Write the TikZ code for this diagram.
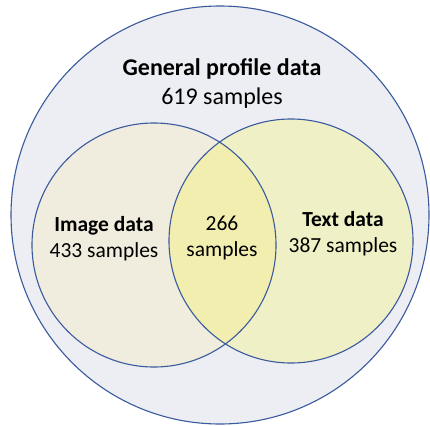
\documentclass[tikz,border=0pt]{standalone}
\usepackage{fontspec}
\setmainfont{Carlito}
\definecolor{outerfill}{HTML}{EDEEF3}
\definecolor{imgfill}{HTML}{F0ECDE}
\definecolor{txtfill}{HTML}{F0F0C6}
\definecolor{bothfill}{HTML}{F2EEB0}
\definecolor{edge}{HTML}{3A5A9E}
\tikzset{
  setcircle/.style={draw=edge, line width=1.1pt},
  lbl/.style={align=center, font=\fontsize{21.5}{26}\selectfont, inner sep=0pt},
  biglbl/.style={align=center, font=\fontsize{24}{29}\selectfont, inner sep=0pt},
}
\begin{document}
\begin{tikzpicture}[x=1pt,y=-1pt]
\useasboundingbox (0,0) rectangle (430,425);
\fill[white] (0,0) rectangle (430,425);
% outer circle
\filldraw[setcircle, fill=outerfill] (220,215) circle[radius=209];
% inner circles
\fill[imgfill] (154,245) circle[radius=122];
\fill[txtfill] (291,241) circle[radius=122];
\begin{scope}
  \clip (154,245) circle[radius=122];
  \fill[bothfill] (291,241) circle[radius=122];
\end{scope}
\draw[setcircle] (154,245) circle[radius=122];
\draw[setcircle] (291,241) circle[radius=122];
% labels
\node[biglbl] (gen) at (222,83) {\textbf{General profile data}\\619 samples};
\node[lbl] (img) at (104,239) {\textbf{Image data}\\433 samples};
\node[lbl] (both) at (222,238) {266\\samples};
\node[lbl] (txt) at (343,234) {\textbf{Text data}\\387 samples};
\end{tikzpicture}
\end{document}
